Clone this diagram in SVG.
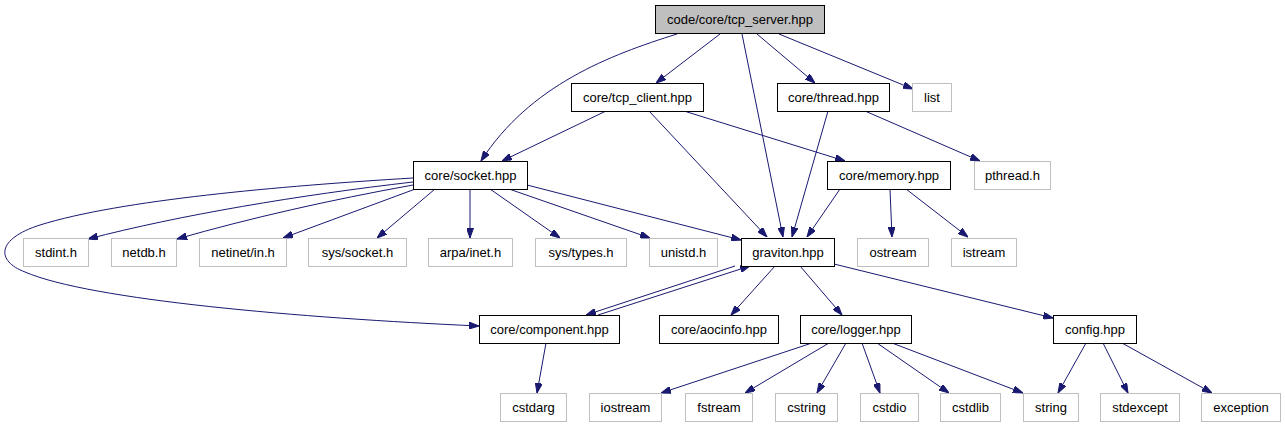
<svg xmlns="http://www.w3.org/2000/svg" width="1285" height="427" viewBox="0 0 1285 427">
<style>
.n rect{fill:#fff;stroke:#000;stroke-width:1}
.m rect{fill:#bfbfbf;stroke:#000;stroke-width:1}
.x rect{fill:#fff;stroke:#bfbfbf;stroke-width:1}
text{font-family:"Liberation Sans",Arial,sans-serif;font-size:13px;text-anchor:middle;fill:#000}
.e path{fill:none;stroke:#191970;stroke-width:1;marker-end:url(#a)}
</style>
<defs>
<marker id="a" viewBox="0 0 10 7" refX="10" refY="3.5" markerWidth="10" markerHeight="7" markerUnits="userSpaceOnUse" orient="auto">
<path d="M0,0 L10,3.5 L0,7 z" fill="#191970" stroke="#191970" stroke-width="1"/>
</marker>
</defs>
<rect width="1285" height="427" fill="#fff"/>
<g id="connectors" class="e">
<path d="M677,34 C610,55 530,85 481,161"/>
<path d="M720,34 L656,83"/>
<path d="M742,34 L783,237"/>
<path d="M757,34 L815,83"/>
<path d="M779,34 L913,89"/>
<path d="M606,111 L502,161"/>
<path d="M649,111 L767,237"/>
<path d="M684,111 L845,161"/>
<path d="M828,111 L792,237"/>
<path d="M865,111 L980,161"/>
<path d="M413,178 C280,186 120,200 40,225 C-4,239 -4,261 25,272 C90,300 300,318 479,326"/>
<path d="M413,182 C300,195 180,215 88,239"/>
<path d="M413,185 C330,200 250,218 177,239"/>
<path d="M418,188 L283,238"/>
<path d="M435,189 L377,238"/>
<path d="M470,189 L470,238"/>
<path d="M490,189 L560,238"/>
<path d="M509,189 L650,238"/>
<path d="M527,185 L741,240"/>
<path d="M840,189 L807,237"/>
<path d="M890,189 L892,237"/>
<path d="M906,189 L968,237"/>
<path d="M735,266 L586,315"/>
<path d="M598,315 L750,266"/>
<path d="M775,266 L731,315"/>
<path d="M800,266 L842,315"/>
<path d="M834,264 L1053,318"/>
<path d="M546,343 L537,393"/>
<path d="M812,343 L661,393"/>
<path d="M829,343 L745,393"/>
<path d="M846,343 L817,393"/>
<path d="M862,343 L880,393"/>
<path d="M877,343 L949,393"/>
<path d="M892,343 L1023,393"/>
<path d="M1086,343 L1058,393"/>
<path d="M1103,343 L1128,393"/>
<path d="M1122,343 L1212,393"/>
</g>
<g id="tcp_server" class="m"><rect x="655.5" y="5.5" width="169" height="28"/><text x="740" y="24">code/core/tcp_server.hpp</text></g>
<g id="tcp_client" class="n"><rect x="571.5" y="83.5" width="132" height="28"/><text x="637.5" y="102">core/tcp_client.hpp</text></g>
<g id="thread" class="n"><rect x="777.5" y="83.5" width="112" height="28"/><text x="833.5" y="102">core/thread.hpp</text></g>
<g id="list" class="x"><rect x="912.5" y="83.5" width="39" height="28"/><text x="932" y="102">list</text></g>
<g id="socket" class="n"><rect x="413.5" y="161.5" width="114" height="28"/><text x="470.5" y="180">core/socket.hpp</text></g>
<g id="memory" class="n"><rect x="827.5" y="161.5" width="123" height="28"/><text x="889" y="180">core/memory.hpp</text></g>
<g id="pthread" class="x"><rect x="974.5" y="161.5" width="76" height="28"/><text x="1012.5" y="180">pthread.h</text></g>
<g id="stdint" class="x"><rect x="23.5" y="238.5" width="65" height="28"/><text x="56" y="257">stdint.h</text></g>
<g id="netdb" class="x"><rect x="111.5" y="238.5" width="65" height="28"/><text x="144" y="257">netdb.h</text></g>
<g id="netinet" class="x"><rect x="199.5" y="238.5" width="87" height="28"/><text x="243" y="257">netinet/in.h</text></g>
<g id="syssocket" class="x"><rect x="308.5" y="238.5" width="98" height="28"/><text x="357.5" y="257">sys/socket.h</text></g>
<g id="arpainet" class="x"><rect x="428.5" y="238.5" width="84" height="28"/><text x="470.5" y="257">arpa/inet.h</text></g>
<g id="systypes" class="x"><rect x="535.5" y="238.5" width="91" height="28"/><text x="581" y="257">sys/types.h</text></g>
<g id="unistd" class="x"><rect x="649.5" y="238.5" width="68" height="28"/><text x="683.5" y="257">unistd.h</text></g>
<g id="graviton" class="n"><rect x="741.5" y="238.5" width="93" height="28"/><text x="788" y="257">graviton.hpp</text></g>
<g id="ostream" class="x"><rect x="857.5" y="238.5" width="71" height="28"/><text x="893" y="257">ostream</text></g>
<g id="istream" class="x"><rect x="951.5" y="238.5" width="65" height="28"/><text x="984" y="257">istream</text></g>
<g id="component" class="n"><rect x="479.5" y="315.5" width="140" height="28"/><text x="549.5" y="334">core/component.hpp</text></g>
<g id="aocinfo" class="n"><rect x="659.5" y="315.5" width="119" height="28"/><text x="719" y="334">core/aocinfo.hpp</text></g>
<g id="logger" class="n"><rect x="800.5" y="315.5" width="111" height="28"/><text x="856" y="334">core/logger.hpp</text></g>
<g id="config" class="n"><rect x="1053.5" y="315.5" width="83" height="28"/><text x="1095" y="334">config.hpp</text></g>
<g id="cstdarg" class="x"><rect x="500.5" y="393.5" width="66" height="28"/><text x="533.5" y="412">cstdarg</text></g>
<g id="iostream" class="x"><rect x="589.5" y="393.5" width="72" height="28"/><text x="625.5" y="412">iostream</text></g>
<g id="fstream" class="x"><rect x="685.5" y="393.5" width="67" height="28"/><text x="719" y="412">fstream</text></g>
<g id="cstring" class="x"><rect x="775.5" y="393.5" width="62" height="28"/><text x="806.5" y="412">cstring</text></g>
<g id="cstdio" class="x"><rect x="860.5" y="393.5" width="58" height="28"/><text x="889.5" y="412">cstdio</text></g>
<g id="cstdlib" class="x"><rect x="940.5" y="393.5" width="60" height="28"/><text x="970.5" y="412">cstdlib</text></g>
<g id="string" class="x"><rect x="1023.5" y="393.5" width="55" height="28"/><text x="1051" y="412">string</text></g>
<g id="stdexcept" class="x"><rect x="1100.5" y="393.5" width="79" height="28"/><text x="1140" y="412">stdexcept</text></g>
<g id="exception" class="x"><rect x="1201.5" y="393.5" width="79" height="28"/><text x="1241" y="412">exception</text></g>
</svg>
